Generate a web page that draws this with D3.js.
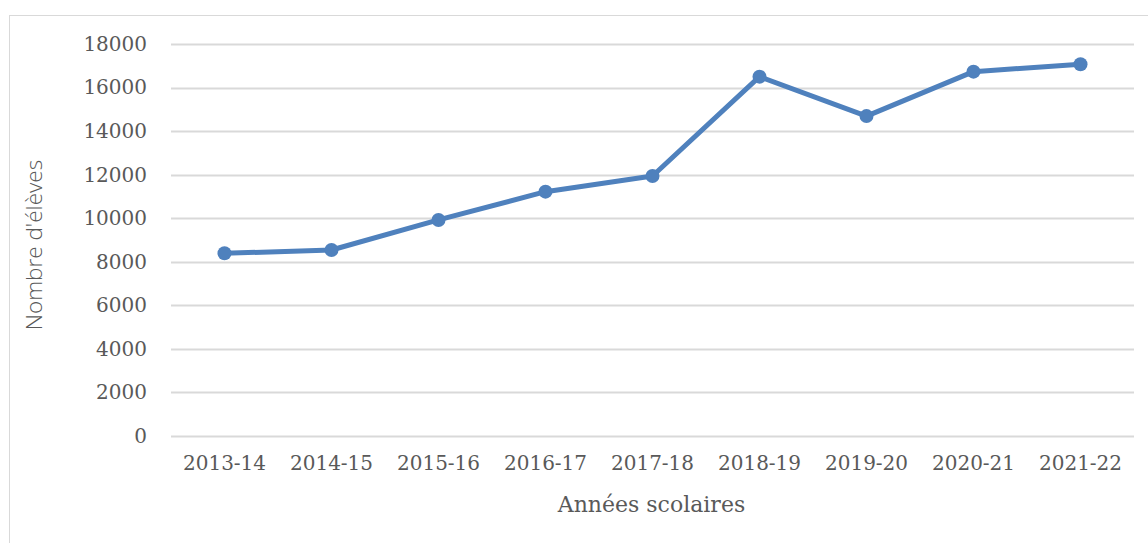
<!DOCTYPE html>
<html>
<head>
<meta charset="utf-8">
<script src="https://cdn.jsdelivr.net/npm/d3@7"></script>
<style>
  body { margin: 0; background: #fff; }
  svg { display: block; }
</style>
</head>
<body>
<svg id="chart"></svg>
<script>
// school years and pupil counts
var years = ["2013-14", "2014-15", "2015-16", "2016-17", "2017-18", "2018-19", "2019-20", "2020-21", "2021-22"];
var pupils = [8390, 8540, 9920, 11220, 11940, 16500, 14690, 16730, 17070];
var yTicks = [0, 2000, 4000, 6000, 8000, 10000, 12000, 14000, 16000, 18000];

var width = 1148,
    height = 543;

var margin = { top: 44, right: 14, bottom: 107, left: 171 };
var innerW = width - margin.left - margin.right,
    innerH = height - margin.top - margin.bottom;

var svg = d3.select("#chart")
    .attr("width", width)
    .attr("height", height);

// chart area border
svg.append("rect")
    .attr("x", 9.5)
    .attr("y", 15.5)
    .attr("width", width + 10)
    .attr("height", height + 10)
    .attr("fill", "none")
    .attr("stroke", "#d9d9d9")
    .attr("stroke-width", 1);

var g = svg.append("g")
    .attr("transform", "translate(" + margin.left + "," + margin.top + ")");

var x = d3.scaleBand().domain(years).range([0, innerW]);
var y = d3.scaleLinear().domain([0, 18000]).range([innerH, 0]);

// gridlines
g.append("g")
    .selectAll("line")
    .data(yTicks)
    .enter()
    .append("line")
    .attr("x1", 0)
    .attr("x2", innerW)
    .attr("y1", d => Math.round(y(d)) + 0.5)
    .attr("y2", d => Math.round(y(d)) + 0.5)
    .attr("stroke", "#d9d9d9")
    .attr("stroke-width", 2);

var tickFont = "'DejaVu Serif', 'Liberation Serif', serif";

// y tick labels
var yAxis = g.append("g")
    .call(d3.axisLeft(y).tickValues(yTicks).tickSize(0).tickPadding(24).tickFormat(d3.format("d")));
yAxis.select(".domain").remove();
yAxis.selectAll("text")
    .attr("font-family", tickFont)
    .attr("font-size", 20)
    .attr("fill", "#595959");

// x tick labels
var xAxis = g.append("g")
    .attr("transform", "translate(0," + innerH + ")")
    .call(d3.axisBottom(x).tickSize(0).tickPadding(20));
xAxis.select(".domain").remove();
xAxis.selectAll("text")
    .attr("font-family", tickFont)
    .attr("font-size", 20)
    .attr("fill", "#595959");

// series line
var line = d3.line()
    .x((d, i) => x(years[i]) + x.bandwidth() / 2)
    .y(d => y(d));

g.append("path")
    .datum(pupils)
    .attr("d", line)
    .attr("fill", "none")
    .attr("stroke", "#4f81bd")
    .attr("stroke-width", 5)
    .attr("stroke-linejoin", "round");

g.append("g")
    .selectAll("circle")
    .data(pupils)
    .enter()
    .append("circle")
    .attr("cx", (d, i) => x(years[i]) + x.bandwidth() / 2)
    .attr("cy", d => y(d))
    .attr("r", 7)
    .attr("fill", "#4f81bd");

// axis titles
svg.append("text")
    .attr("x", margin.left + innerW / 2 - 1)
    .attr("y", 512)
    .attr("text-anchor", "middle")
    .attr("font-family", tickFont)
    .attr("font-size", 22)
    .attr("fill", "#595959")
    .text("Années scolaires");

svg.append("text")
    .attr("transform", "translate(42," + 245 + ") rotate(-90)")
    .attr("text-anchor", "middle")
    .attr("font-family", "'Open Sans', 'Noto Sans', sans-serif")
    .attr("font-weight", 300)
    .attr("font-size", 22.5)
    .attr("fill", "#595959")
    .text("Nombre d'élèves");
</script>
</body>
</html>
